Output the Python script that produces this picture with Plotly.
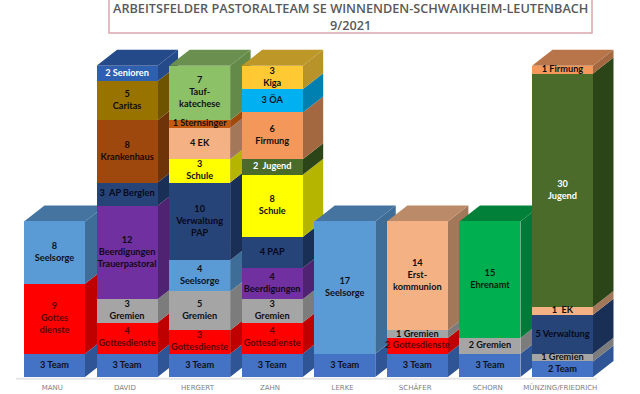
import plotly.graph_objects as go

staff = ["MANU", "DAVID", "HERGERT", "ZAHN", "LERKE", "SCHÄFER", "SCHORN", "MÜNZING/FRIEDRICH"]

title_line_1 = "ARBEITSFELDER PASTORALTEAM SE WINNENDEN-SCHWAIKHEIM-LEUTENBACH"
title_line_2 = "9/2021"

# hours per field of work, bottom to top
manu_values = [3, 9, 8]
manu_fields = ["Team", "Gottesdienste", "Seelsorge"]
manu_labels = ["3 Team", "9<br>Gottes<br>dienste", "8<br>Seelsorge"]

david_values = [3, 4, 3, 12, 3, 8, 5, 2]
david_fields = ["Team", "Gottesdienste", "Gremien", "Beerdigungen", "Verwaltung", "Krankenhaus", "Caritas", "Senioren"]
david_labels = ["3 Team", "4<br>Gottesdienste", "3<br>Gremien", "12<br>Beerdigungen<br>Trauerpastoral",
                "3  AP Berglen", "8<br>Krankenhaus", "5<br>Caritas", "2 Senioren"]

hergert_values = [3, 3, 5, 4, 10, 3, 4, 1, 7]
hergert_fields = ["Team", "Gottesdienste", "Gremien", "Seelsorge", "Verwaltung", "Schule", "EK", "Sternsinger", "Taufkatechese"]
hergert_labels = ["3 Team", "3<br>Gottesdienste", "5<br>Gremien", "4<br>Seelsorge", "10<br>Verwaltung<br>PAP",
                  "3<br>Schule", "4 EK", "1 Sternsinger", "7<br>Tauf-<br>katechese"]

zahn_values = [3, 4, 3, 4, 4, 8, 2, 6, 3, 3]
zahn_fields = ["Team", "Gottesdienste", "Gremien", "Beerdigungen", "Verwaltung", "Schule", "Jugend", "Firmung", "OeA", "Kiga"]
zahn_labels = ["3 Team", "4<br>Gottesdienste", "3<br>Gremien", "4<br>Beerdigungen", "4 PAP", "8<br>Schule",
               "2  Jugend", "6<br>Firmung", "3 ÖA", "3<br>Kiga"]

lerke_values = [3, 17]
lerke_fields = ["Team", "Seelsorge"]
lerke_labels = ["3 Team", "17<br>Seelsorge"]

schaefer_values = [3, 2, 1, 14]
schaefer_fields = ["Team", "Gottesdienste", "Gremien", "EK"]
schaefer_labels = ["3 Team", "2 Gottesdienste", "1 Gremien", "14<br>Erst-<br>kommunion"]

schorn_values = [3, 2, 15]
schorn_fields = ["Team", "Gremien", "Ehrenamt"]
schorn_labels = ["3 Team", "2 Gremien", "15<br>Ehrenamt"]

muenzing_values = [2, 1, 5, 1, 30, 1]
muenzing_fields = ["Team", "Gremien", "Verwaltung", "EK", "Jugend", "Firmung"]
muenzing_labels = ["2 Team", "1 Gremien", "5 Verwaltung", "1  EK", "30<br>Jugend", "1 Firmung"]

# field: (front, side, top, text)
palette = {
    "Team": ("#4472C4", "#2F5597", "#2F5597", "#101018"),
    "Gottesdienste": ("#FF0000", "#BF0000", "#BF0000", "#5A0000"),
    "Gremien": ("#A5A5A5", "#7C7C7C", "#7C7C7C", "#101010"),
    "Seelsorge": ("#5B9BD5", "#3E6D98", "#44749F", "#101018"),
    "Beerdigungen": ("#7030A0", "#4F2272", "#4F2272", "#100818"),
    "Verwaltung": ("#264478", "#1A2F55", "#1F3A6A", "#080818"),
    "Krankenhaus": ("#9E480E", "#6F330A", "#6F330A", "#180800"),
    "Caritas": ("#997300", "#6E5300", "#6E5300", "#100C00"),
    "Senioren": ("#2F5FAF", "#244A8A", "#244A8A", "#FFFFFF"),
    "Taufkatechese": ("#8CC168", "#638A48", "#6A8F4E", "#101010"),
    "Sternsinger": ("#C55A11", "#A04A0E", "#A04A0E", "#101010"),
    "EK": ("#F4B183", "#A3775A", "#BB8B69", "#101010"),
    "Schule": ("#FFFF00", "#B5B500", "#B5B500", "#101010"),
    "Kiga": ("#FFC933", "#B7932A", "#BD9828", "#101010"),
    "OeA": ("#00B0F0", "#0080B0", "#0080B0", "#101018"),
    "Firmung": ("#F4975A", "#A3683F", "#B9754A", "#101010"),
    "Jugend": ("#4A6B2A", "#2B4418", "#2B4418", "#FFFFFF"),
    "Ehrenamt": ("#00B050", "#007A38", "#008038", "#08180C"),
}

columns = [
    (manu_values, manu_fields, manu_labels),
    (david_values, david_fields, david_labels),
    (hergert_values, hergert_fields, hergert_labels),
    (zahn_values, zahn_fields, zahn_labels),
    (lerke_values, lerke_fields, lerke_labels),
    (schaefer_values, schaefer_fields, schaefer_labels),
    (schorn_values, schorn_fields, schorn_labels),
    (muenzing_values, muenzing_fields, muenzing_labels),
]

# layout geometry (pixels of the 640x394 window)
W, H = 640, 394
PLOT_L, PLOT_R, PLOT_T, PLOT_B = 16, 620, 0, 380
FIRST_CENTER = 54.5
PITCH = 72.57
FRONT = 61.0
BASE_Y = 377
UNIT = 7.78
DX = 20.5 / PITCH
DY = 16.0 / UNIT
BAR_W = FRONT / PITCH
LABEL_FONT = "Lato"

x_range = [(PLOT_L - FIRST_CENTER) / PITCH, (PLOT_R - FIRST_CENTER) / PITCH]
y_range = [(BASE_Y - PLOT_B) / UNIT, BASE_Y / UNIT]


def px_x(p):
    return (p - PLOT_L) / (PLOT_R - PLOT_L)


def px_y(p):
    return 1 - (p - PLOT_T) / (PLOT_B - PLOT_T)


fig = go.Figure()
shapes = []

# baseline under the columns
shapes.append(dict(type="line", layer="below", xref="paper", yref="y", x0=px_x(16), x1=px_x(597),
                   y0=-1.7 / UNIT, y1=-1.7 / UNIT, line=dict(color="#E6E6E6", width=2)))

for i, (values, fields, labels) in enumerate(columns):
    left, right = i - BAR_W / 2, i + BAR_W / 2
    base = 0
    for v, f, lab in zip(values, fields, labels):
        front, side, top, ink = palette[f]
        fig.add_trace(go.Bar(x=[i], y=[v], width=BAR_W, marker=dict(color=front, line=dict(width=0)),
                             showlegend=False, hoverinfo="skip"))
        y0, y1 = base, base + v
        shapes.append(dict(type="path", layer="below", xref="x", yref="y", fillcolor=side, line=dict(width=0),
                           path=f"M{right},{y0} L{right},{y1} L{right + DX},{y1 + DY} L{right + DX},{y0 + DY} Z"))
        base = y1
    f = fields[-1]
    shapes.append(dict(type="path", layer="below", xref="x", yref="y", fillcolor=palette[f][2], line=dict(width=0),
                       path=f"M{left},{base} L{right},{base} L{right + DX},{base + DY} L{left + DX},{base + DY} Z"))

for i, (values, fields, labels) in enumerate(columns):
    base = 0
    for v, f, lab in zip(values, fields, labels):
        fig.add_trace(go.Scatter(x=[i], y=[base + v / 2], mode="text", text=[lab], textposition="middle center",
                                 textfont=dict(family=LABEL_FONT, size=9.2, color=palette[f][3], weight=700),
                                 showlegend=False, hoverinfo="skip", cliponaxis=False))
        base += v

# title box
shapes.append(dict(type="rect", xref="paper", yref="paper", x0=px_x(109), x1=px_x(592), y0=px_y(33), y1=px_y(-3),
                   line=dict(color="#D9A6AC", width=1.5), fillcolor="rgba(0,0,0,0)"))

fig.update_layout(
    width=W, height=H, autosize=False,
    margin=dict(l=PLOT_L, r=W - PLOT_R, t=PLOT_T, b=H - PLOT_B, pad=0),
    paper_bgcolor="white", plot_bgcolor="rgba(0,0,0,0)",
    barmode="stack", bargap=0, shapes=shapes, showlegend=False,
    xaxis=dict(range=x_range, tickmode="array", tickvals=[i - 0.03 for i in range(len(staff))], ticktext=staff,
               showgrid=False, zeroline=False, showline=False, ticks="", ticklabelstandoff=2,
               tickfont=dict(family="DejaVu Sans", size=7, color="#7F7F7F")),
    yaxis=dict(range=y_range, showgrid=False, zeroline=False, showline=False, showticklabels=False, ticks=""),
    annotations=[
        dict(xref="paper", yref="paper", x=px_x(350), y=px_y(16), yanchor="middle",
             text=title_line_1 + "<br>" + title_line_2, showarrow=False, align="center",
             font=dict(family="Open Sans", size=12.7, color="#595959", weight=600)),
    ],
)

fig.write_html("out.html", config=dict(displayModeBar=False), post_script="document.body.style.margin='0';")
